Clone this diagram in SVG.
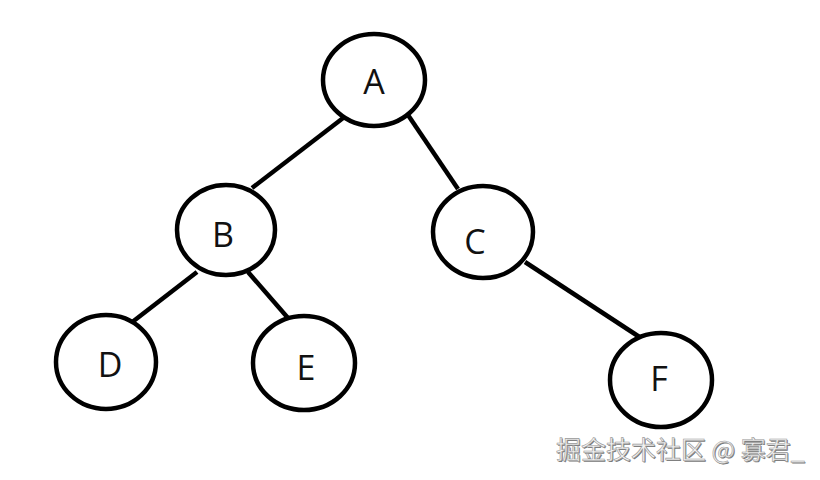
<svg xmlns="http://www.w3.org/2000/svg" width="820" height="480" viewBox="0 0 820 480">
<style>
.node ellipse{fill:#fff;stroke:#000;stroke-width:4.5}
.node text{font-family:"Open Sans","Noto Sans",sans-serif;font-size:34px;fill:#111;text-anchor:middle}
#edges line{stroke:#000;stroke-width:4.5;stroke-linecap:butt}
.wm{font-family:"Noto Sans CJK SC","Noto Sans",sans-serif;font-size:25px}
</style>
<rect width="820" height="480" fill="#fff"/>
<g id="edges">
<line x1="347" y1="115" x2="252" y2="188"/>
<line x1="408" y1="115" x2="458" y2="189"/>
<line x1="197" y1="272" x2="131" y2="323"/>
<line x1="248" y1="272" x2="288" y2="318"/>
<line x1="525" y1="262" x2="641" y2="338"/>
</g>
<g id="nodeA" class="node"><ellipse cx="374" cy="80" rx="51" ry="46"/><text x="374" y="94">A</text></g>
<g id="nodeB" class="node"><ellipse cx="226" cy="230" rx="49" ry="45"/><text x="223" y="247">B</text></g>
<g id="nodeC" class="node"><ellipse cx="483" cy="232" rx="50" ry="46"/><text x="475" y="254">C</text></g>
<g id="nodeD" class="node"><ellipse cx="106" cy="362" rx="50" ry="47"/><text x="110" y="377">D</text></g>
<g id="nodeE" class="node"><ellipse cx="304" cy="363" rx="51" ry="47"/><text x="306" y="380">E</text></g>
<g id="nodeF" class="node"><ellipse cx="661" cy="380" rx="51" ry="47"/><text x="659" y="391">F</text></g>
<g id="watermark">
<text class="wm" x="557" y="460" fill="#777">掘金技术社区 @ 寡君_</text>
<text class="wm" x="556" y="459" fill="#f2f2f2" stroke="#999" stroke-width="0.6">掘金技术社区 @ 寡君_</text>
</g>
</svg>
